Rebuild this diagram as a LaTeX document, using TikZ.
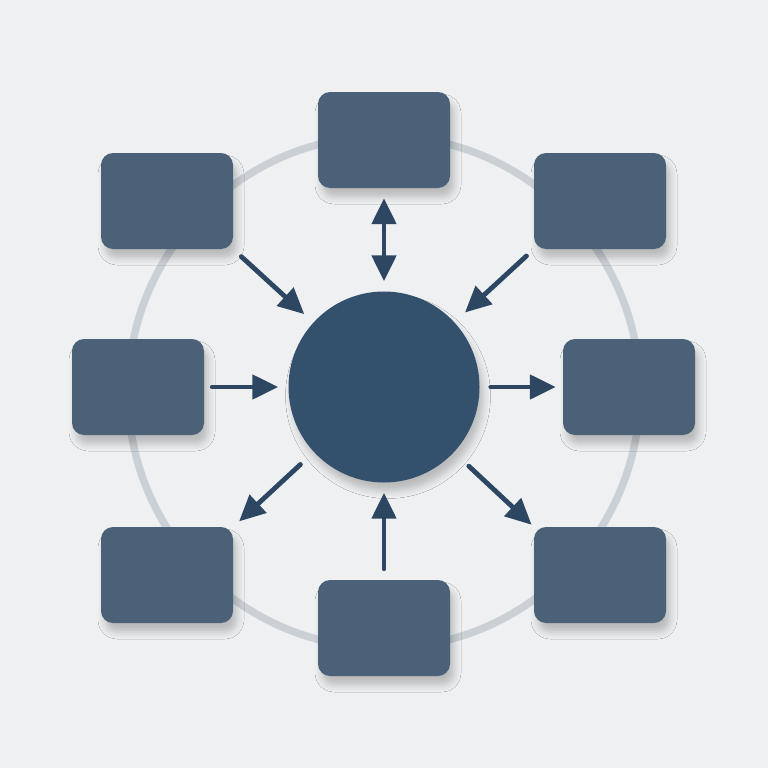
\documentclass[tikz,border=0pt]{standalone}
\usetikzlibrary{arrows.meta,shadows.blur}
\definecolor{bgcol}{HTML}{EFF0F1}
\definecolor{boxcol}{HTML}{4B6178}
\definecolor{hubcol}{HTML}{33506D}
\definecolor{arrcol}{HTML}{2D4661}
\definecolor{ringcol}{HTML}{CAD0D5}
\tikzset{
  softshadow/.style={blur shadow={shadow xshift=4pt, shadow yshift=-9pt, shadow blur radius=7pt, shadow opacity=22}},
  box/.style={rectangle, rounded corners=12pt, minimum width=132pt, minimum height=96pt,
    inner sep=0pt, fill=boxcol, softshadow},
  hub/.style={circle, minimum size=191pt, inner sep=0pt, fill=hubcol, softshadow},
  ring/.style={draw=ringcol, line width=7.5pt},
  conn/.style={draw=arrcol, line width=4.8pt, line cap=round},
  tip/.style={-{Triangle[length=26pt,width=24pt]}},
  tips/.style={{Triangle[length=26pt,width=24pt]}-{Triangle[length=26pt,width=24pt]}}
}
\begin{document}
\begin{tikzpicture}[x=1pt,y=-1pt]
\fill[bgcol] (0,0) rectangle (768,768);
\useasboundingbox (0,0) rectangle (768,768);
\coordinate (o) at (384,392);
\draw[ring] (o) circle[radius=256pt];
\node[hub] (c) at (384,387) {};
\node[box] (t)  at (384,140) {};
\node[box] (tl) at (167,201) {};
\node[box] (tr) at (600,201) {};
\node[box] (l)  at (138,387) {};
\node[box] (r)  at (629,387) {};
\node[box] (bl) at (167,575) {};
\node[box] (br) at (600,575) {};
\node[box] (b)  at (384,628) {};
% connectors
\draw[conn,tips,shorten <=10pt,shorten >=10pt] (t.south) -- (c.north);
\draw[conn,tip,shorten <=11pt,shorten >=108pt] (tl.south east) -- (c.center);
\draw[conn,tip,shorten <=10pt,shorten >=110pt] (tr.south west) -- (c.center);
\draw[conn,tip,shorten <=8pt,shorten >=10pt] (l.east) -- (c.west);
\draw[conn,tip,shorten <=11pt,shorten >=7pt] (c.east) -- (r.west);
\draw[conn,tip,shorten <=114pt,shorten >=8pt] (c.center) -- (bl.north east);
\draw[conn,tip,shorten <=116pt,shorten >=3pt] (c.center) -- (br.north west);
\draw[conn,tip,shorten <=11pt,shorten >=10pt] (b.north) -- (c.south);
\end{tikzpicture}
\end{document}
